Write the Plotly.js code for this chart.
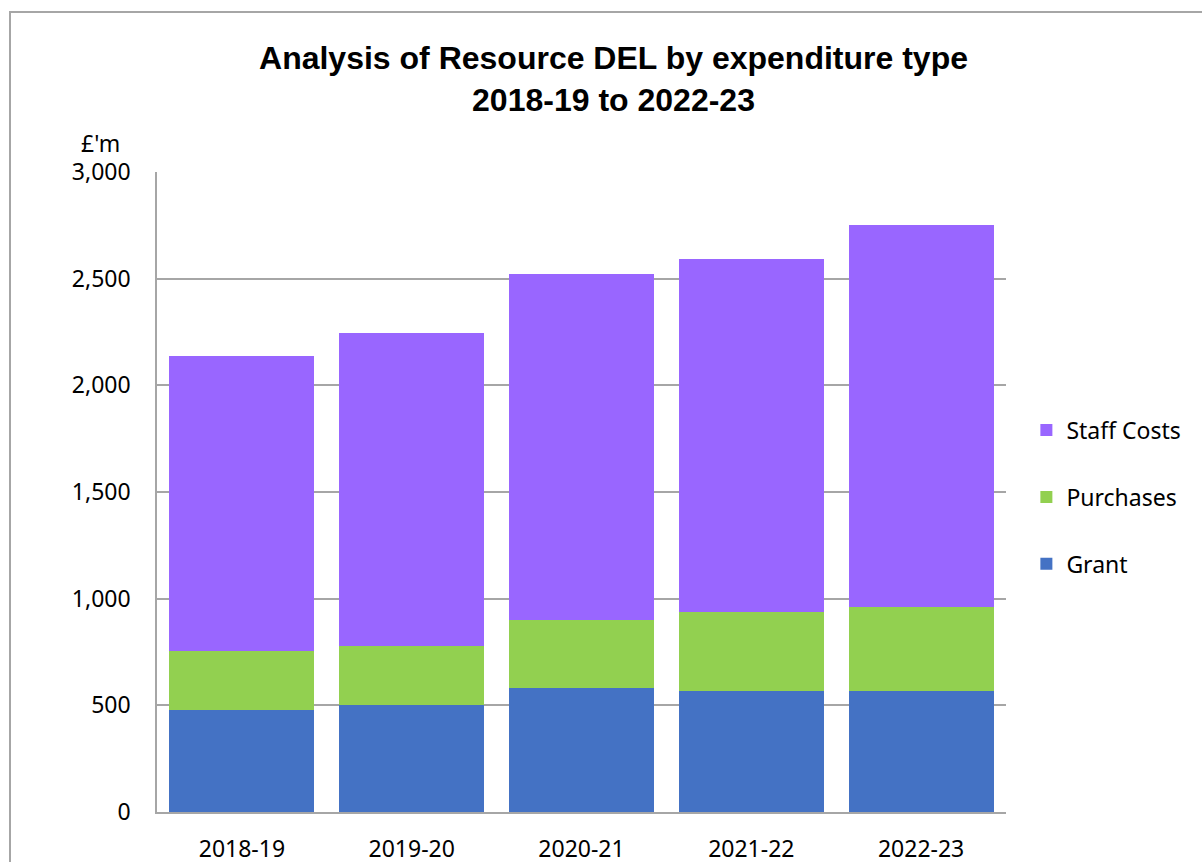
<!DOCTYPE html>
<html>
<head>
<meta charset="utf-8">
<script src="https://cdn.plot.ly/plotly-3.0.1.min.js"></script>
<style>
  html, body { margin: 0; padding: 0; background: #fff; }
  #chart { width: 1202px; height: 862px; }
</style>
</head>
<body>
<div id="chart"></div>
<script>
// Data (£m)
const years = ["2018-19", "2019-20", "2020-21", "2021-22", "2022-23"];
const grant = [480, 502, 581, 567, 567];
const purchases = [275, 276, 319, 370, 394];
const staffCosts = [1383, 1467, 1622, 1655, 1791];

const seriesNames = ["Grant", "Purchases", "Staff Costs"];
const seriesColors = ["#4472C4", "#92D050", "#9966FF"];
const seriesValues = [grant, purchases, staffCosts];
const legendRanks = [3, 2, 1];

const traces = seriesValues.map((vals, i) => ({
  type: "bar",
  name: seriesNames[i],
  legendgroup: seriesNames[i],
  legendrank: legendRanks[i],
  x: years,
  y: vals,
  marker: { color: seriesColors[i], line: { width: 0 } },
  hoverinfo: "x+y+name"
}));

const font = "'Noto Sans', 'Open Sans', sans-serif";

const layout = {
  width: 1202,
  height: 862,
  margin: { l: 157, r: 196, t: 172, b: 50 },
  paper_bgcolor: "#ffffff",
  plot_bgcolor: "#ffffff",
  barmode: "stack",
  bargap: 0.146,
  title: {
    text: "Analysis of Resource DEL by expenditure type<br>2018-19 to 2022-23",
    font: { family: "'Liberation Sans', Arial, sans-serif", size: 32, color: "#000000", weight: "bold" },
    x: 0.5104,
    xanchor: "center",
    xref: "container",
    y: 0.92,
    yanchor: "top",
    yref: "container"
  },
  xaxis: {
    type: "category",
    showline: true,
    linecolor: "#A6A6A6",
    linewidth: 1.5,
    showgrid: false,
    ticks: "",
    ticklabelstandoff: 16,
    tickfont: { family: font, size: 23, color: "#000000" }
  },
  yaxis: {
    range: [0, 3000],
    dtick: 500,
    tick0: 0,
    tickformat: ",",
    showline: true,
    linecolor: "#A6A6A6",
    linewidth: 1.5,
    showgrid: true,
    gridcolor: "#A6A6A6",
    gridwidth: 1.5,
    zeroline: false,
    ticks: "",
    ticklabelstandoff: 20,
    tickfont: { family: font, size: 23, color: "#000000" }
  },
  legend: {
    x: 1.024,
    xanchor: "left",
    y: 0.492,
    yanchor: "middle",
    traceorder: "grouped",
    tracegroupgap: 34,
    font: { family: font, size: 23, color: "#000000" },
    bgcolor: "rgba(0,0,0,0)"
  },
  annotations: [{
    text: "£'m",
    xref: "paper", yref: "paper",
    x: -0.067, y: 1.046,
    xanchor: "center", yanchor: "middle",
    showarrow: false,
    font: { family: font, size: 23, color: "#000000" }
  }],
  shapes: [{
    type: "rect",
    xref: "paper", yref: "paper",
    x0: (10 - 157) / 849, x1: (1215 - 157) / 849,
    y0: (812 - 875) / 640, y1: (812 - 12) / 640,
    line: { color: "#A6A6A6", width: 2 },
    fillcolor: "rgba(0,0,0,0)",
    layer: "below"
  }],
  showlegend: true
};

Plotly.newPlot("chart", traces, layout, { displayModeBar: false });
</script>
</body>
</html>
